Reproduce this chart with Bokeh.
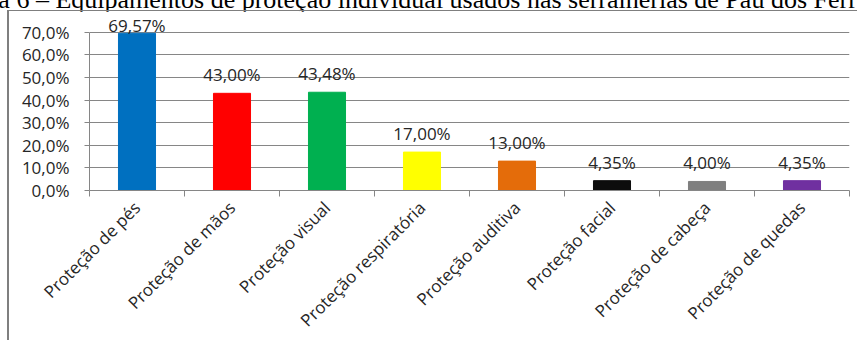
import numpy as np
from bokeh.plotting import figure
from bokeh.layouts import column
from bokeh.models import (ColumnDataSource, FixedTicker, LabelSet, Range1d, LinearAxis, Div)
from bokeh.core.properties import value
from bokeh.embed import file_html
from bokeh.resources import INLINE

categories = ["Proteção de pés", "Proteção de mãos", "Proteção visual", "Proteção respiratória",
              "Proteção auditiva", "Proteção facial", "Proteção de cabeça", "Proteção de quedas"]
values = [69.57, 43.00, 43.48, 17.00, 13.00, 4.35, 4.00, 4.35]
value_labels = ["69,57%", "43,00%", "43,48%", "17,00%", "13,00%", "4,35%", "4,00%", "4,35%"]
colors = ["#0070C0", "#FF0000", "#00B050", "#FFFF00", "#E46C0A", "#0D0D0D", "#7F7F7F", "#7030A0"]
y_ticks = [0, 10, 20, 30, 40, 50, 60, 70]
y_tick_labels = ["0,0%", "10,0%", "20,0%", "30,0%", "40,0%", "50,0%", "60,0%", "70,0%"]
title_text = "Figura 6 – Equipamentos de proteção individual usados nas serralherias de Pau dos Ferros"

FONT = "Open Sans"
TXT = "#262626"
GRID = "#868686"
BORDER = "#7F7F7F"

# layout (pixels inside the canvas)
canvas_w, canvas_h = 848, 329
frame_left, frame_w = 80, 758
frame_top = 2
axis_top_px = 20.7          # canvas y of the 70% line
zero_px = 178               # canvas y of the 0% line
y_top_tick = y_ticks[-1]
px_per_unit = (zero_px - axis_top_px) / y_top_tick
frame_h = zero_px - frame_top
y_max = frame_h / px_per_unit
label_gap = 12

n = len(categories)
xpos = np.arange(n) + 0.5
offs = [min(label_gap, (y_top_tick - v) * px_per_unit) for v in values]

src = ColumnDataSource(dict(x=xpos, top=values, color=colors, lab=value_labels, off=offs))

p = figure(frame_width=frame_w, frame_height=int(frame_h), min_border_left=frame_left,
           min_border_right=canvas_w - frame_left - frame_w, min_border_top=frame_top,
           min_border_bottom=canvas_h - zero_px, x_range=Range1d(0, n), y_range=Range1d(0, y_max),
           output_backend="svg", toolbar_location=None, x_axis_location=None, y_axis_location=None,
           margin=(0, 0, 0, 7),
           styles={"border-left": f"2px solid {BORDER}", "border-top": f"1px solid {BORDER}"})
p.outline_line_color = None
p.background_fill_color = "white"
p.border_fill_color = "white"

p.vbar(x="x", top="top", width=0.39, color="color", source=src)

xaxis = LinearAxis(ticker=FixedTicker(ticks=list(xpos), minor_ticks=list(range(n + 1))))
xaxis.major_label_overrides = {float(x): c for x, c in zip(xpos, categories)}
xaxis.major_tick_line_color = None
xaxis.minor_tick_out = 6
xaxis.minor_tick_in = 0
xaxis.minor_tick_line_color = GRID
xaxis.axis_line_color = GRID
xaxis.major_label_orientation = np.pi / 4
xaxis.major_label_text_font = FONT
xaxis.major_label_text_font_size = "17px"
xaxis.major_label_text_color = TXT
xaxis.major_label_standoff = 8
p.add_layout(xaxis, "below")

yaxis = LinearAxis(ticker=FixedTicker(ticks=y_ticks), bounds=(0, y_top_tick))
yaxis.major_label_overrides = {t: l for t, l in zip(y_ticks, y_tick_labels)}
yaxis.major_tick_out = 5
yaxis.major_tick_in = 0
yaxis.minor_tick_line_color = None
yaxis.major_tick_line_color = GRID
yaxis.axis_line_color = GRID
yaxis.major_label_text_font = FONT
yaxis.major_label_text_font_size = "17px"
yaxis.major_label_text_color = TXT
yaxis.major_label_standoff = 15
p.add_layout(yaxis, "left")

p.xgrid.visible = False
p.ygrid.ticker = FixedTicker(ticks=y_ticks)
p.ygrid.grid_line_color = GRID
p.ygrid.grid_line_width = 1

labels = LabelSet(x="x", y="top", text="lab", y_offset="off", source=src, text_align="center",
                  text_baseline="alphabetic", text_font=value(FONT), text_font_size="17px",
                  text_color=TXT)
p.add_layout(labels)

title_div = Div(
    text=('<div style="position:relative; top:-13px; left:-58px; white-space:nowrap; '
          'font-family:\'Liberation Serif\'; font-size:26px; line-height:26px; color:#000;">'
          + title_text + '</div>'),
    width=857, height=10, margin=(0, 0, 0, 0))

layout = column(title_div, p, spacing=0, margin=(0, 0, 0, 0))

open("out.html", "w").write(file_html(layout, INLINE))
